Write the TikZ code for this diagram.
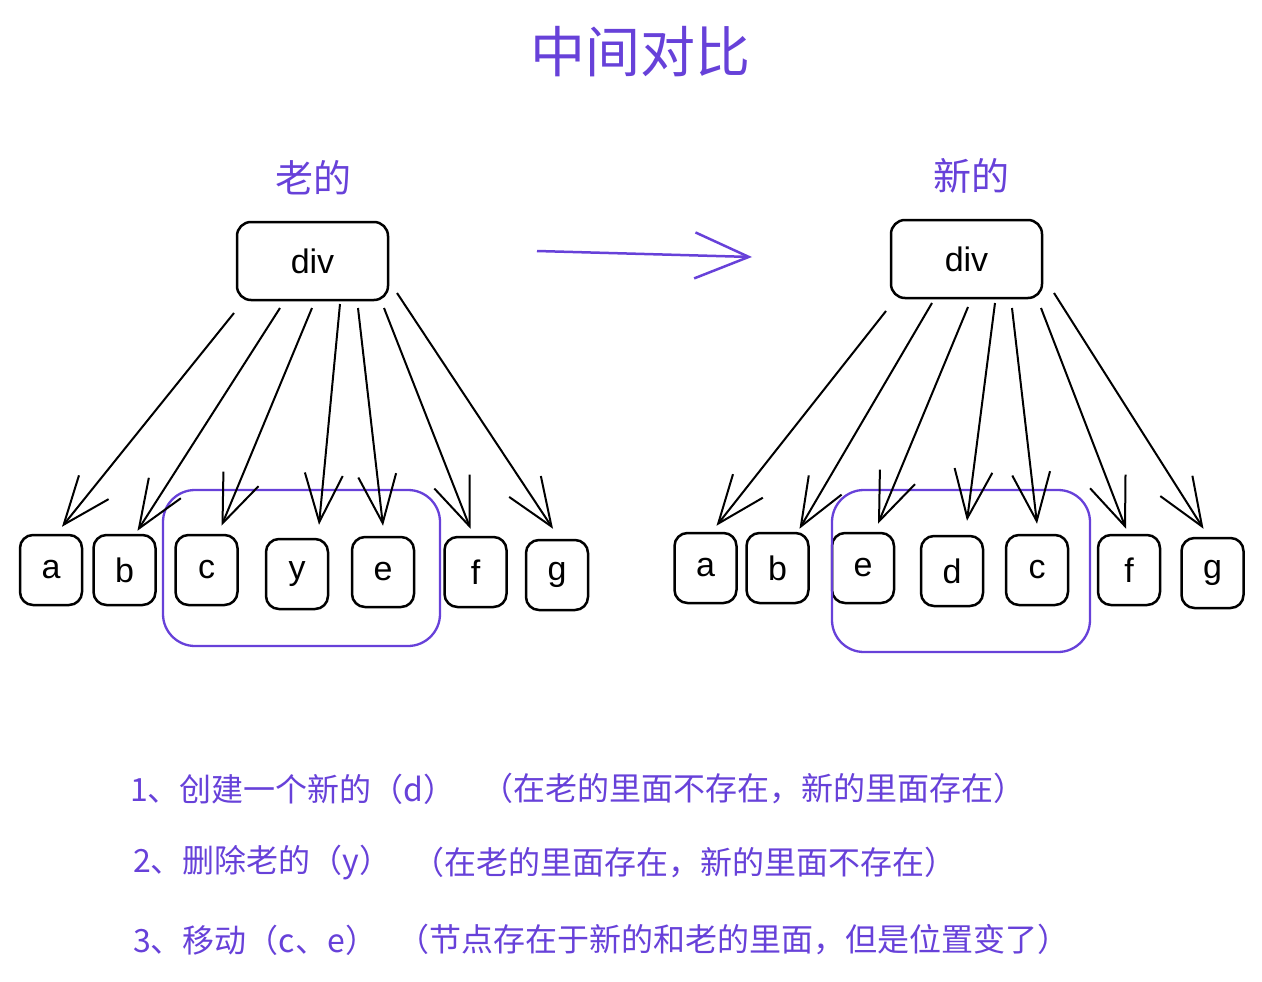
\documentclass[tikz,border=0pt]{standalone}
\usepackage{fontspec}
\setmainfont{Liberation Sans}
\newfontfamily\cjk{Noto Sans CJK SC}
\usetikzlibrary{arrows.meta,calc}
\definecolor{inkviolet}{HTML}{6741D9}
\tikzset{
  leaf/.style={draw, line width=2.5pt, rounded corners=13pt, minimum width=62pt, minimum height=70pt,
    inner sep=0pt, font=\fontsize{34}{34}\selectfont},
  parent/.style={draw, line width=2.5pt, rounded corners=14pt, minimum width=151pt, minimum height=78pt,
    font=\fontsize{34}{34}\selectfont},
  group/.style={draw=inkviolet, line width=2.3pt, rounded corners=32pt},
  child/.style={line width=2pt, -{Straight Barb[length=48pt,width=38pt,line width=2pt]}},
  heading/.style={text=inkviolet, font=\cjk\fontsize{38}{40}\selectfont},
  note/.style={text=inkviolet, anchor=west, inner sep=0pt, font=\cjk\fontsize{32}{36}\selectfont},
}
\begin{document}
\begin{tikzpicture}[x=1pt, y=-1pt]
\useasboundingbox (0,0) rectangle (1262,982);

% title
\node[text=inkviolet, font=\cjk\fontsize{55}{60}\selectfont] (title) at (640,52) {中间对比};

% old tree
\node[heading] (oldlabel) at (313,178) {老的};
\node[parent] (ldiv) at (312.5,261) {div};
\node[leaf] (la) at (51,570)   {a};
\node[leaf] (lb) at (124.5,570) {b};
\node[leaf] (lc) at (206.5,570) {c};
\node[leaf] (ly) at (297,574)  {y};
\node[leaf] (le) at (383,572)  {e};
\node[leaf] (lf) at (475.5,572) {f};
\node[leaf] (lg) at (557,575)  {g};
\node[group, minimum width=277pt, minimum height=156pt] (lgroup) at (301.5,568) {};

\coordinate (ls1) at (234,313);
\coordinate (ls2) at (280,308);
\coordinate (ls3) at (312,308);
\coordinate (ls4) at (340,304);
\coordinate (ls5) at (358,308);
\coordinate (ls6) at (384,308);
\coordinate (ls7) at (397,293);
\draw[child] (ls1) -- ($(la.north)+(11,-7)$);
\draw[child] (ls2) -- ($(lb.north)+(13,-3)$);
\draw[child] (ls3) -- ($(lc.north)+(15,-8)$);
\draw[child] (ls4) -- ($(ly.north)+(22,-13)$);
\draw[child] (ls5) -- ($(le.north)+(0,-10)$);
\draw[child] (ls6) -- ($(lf.north)+(-5,-7)$);
\draw[child] (ls7) -- ($(lg.north)+(-4,-10)$);

% transition arrow
\coordinate (from) at (537,251);
\coordinate (to) at (752,257);
\draw[draw=inkviolet, line width=2.5pt, -{Straight Barb[length=54pt,width=46pt,line width=2.5pt]}] (from) -- (to);

% new tree
\node[heading] (newlabel) at (971,176) {新的};
\node[parent] (rdiv) at (966.5,259) {div};
\node[leaf] (ra) at (705.5,568) {a};
\node[leaf] (rb) at (777.5,568) {b};
\node[leaf] (re) at (863,568)   {e};
\node[leaf] (rd) at (952,571)   {d};
\node[leaf] (rc) at (1037,570)  {c};
\node[leaf] (rf) at (1129,570)  {f};
\node[leaf] (rg) at (1212.5,573) {g};
\node[group, minimum width=258pt, minimum height=162pt] (rgroup) at (961,571) {};

\coordinate (rs1) at (886,311);
\coordinate (rs2) at (932,303);
\coordinate (rs3) at (968,307);
\coordinate (rs4) at (995,303);
\coordinate (rs5) at (1012,308);
\coordinate (rs6) at (1041,308);
\coordinate (rs7) at (1054,293);
\draw[child] (rs1) -- ($(ra.north)+(11,-6)$);
\draw[child] (rs2) -- ($(rb.north)+(22,-3)$);
\draw[child] (rs3) -- ($(re.north)+(15,-8)$);
\draw[child] (rs4) -- ($(rd.north)+(15,-14)$);
\draw[child] (rs5) -- ($(rc.north)+(0,-10)$);
\draw[child] (rs6) -- ($(rf.north)+(-3,-5)$);
\draw[child] (rs7) -- ($(rg.north)+(-9,-8)$);

% notes
\node[note] (n1a) at (130,789) {1、创建一个新的（d）};
\node[note] (n1b) at (481,789) {（在老的里面不存在，新的里面存在）};
\node[note] (n2a) at (133,863) {2、删除老的（y）};
\node[note] (n2b) at (412,863) {（在老的里面存在，新的里面不存在）};
\node[note] (n3a) at (133,940) {3、移动（c、e）};
\node[note] (n3b) at (397,940) {（节点存在于新的和老的里面，但是位置变了）};
\end{tikzpicture}
\end{document}
